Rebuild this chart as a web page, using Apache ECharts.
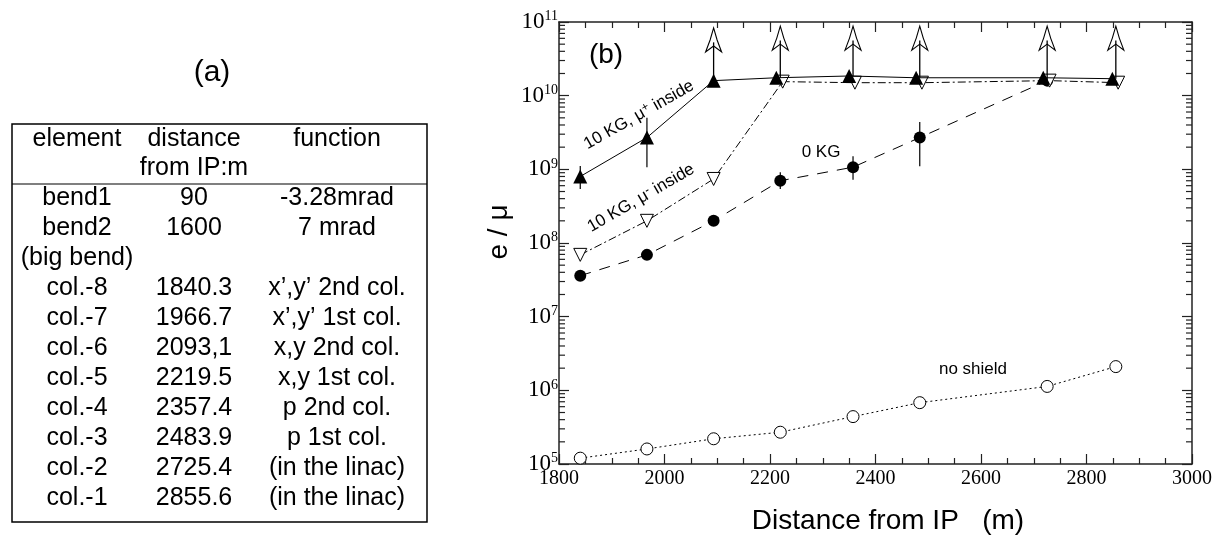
<!DOCTYPE html>
<html><head><meta charset="utf-8">
<script src="https://cdn.jsdelivr.net/npm/echarts@6/dist/echarts.min.js"></script>
<style>html,body{margin:0;padding:0;background:#fff}#c{width:1227px;height:539px}</style>
</head><body><div id="c"></div>
<script>
// ---------- table (a) ----------
const tableHeader1 = ['element', 'distance', 'function'];
const tableHeader2 = ['', 'from IP:m', ''];
const tableElements = ['bend1', 'bend2', '(big bend)', 'col.-8', 'col.-7', 'col.-6', 'col.-5', 'col.-4', 'col.-3', 'col.-2', 'col.-1'];
const tableDistances = ['90', '1600', '', '1840.3', '1966.7', '2093,1', '2219.5', '2357.4', '2483.9', '2725.4', '2855.6'];
const tableFunctions = ['-3.28mrad', '7 mrad', '', 'x\u2019,y\u2019 2nd col.', 'x\u2019,y\u2019 1st col.', 'x,y 2nd col.', 'x,y 1st col.', 'p 2nd col.', 'p 1st col.', '(in the linac)', '(in the linac)'];

// ---------- chart (b) ----------
const muPlusX = [1840.3, 1966.7, 2093.1, 2212, 2350, 2477, 2718, 2849];
const muPlusY = [8.0e8, 2.7e9, 1.6e10, 1.75e10, 1.85e10, 1.75e10, 1.75e10, 1.7e10];
const muMinusX = [1840.3, 1966.7, 2093.1, 2224, 2361, 2488, 2730, 2860];
const muMinusY = [6.9e7, 2.0e8, 7.4e8, 1.55e10, 1.5e10, 1.5e10, 1.6e10, 1.5e10];
const zeroKgX = [1840.3, 1966.7, 2093.1, 2219.5, 2357.4, 2483.9, 2725.4];
const zeroKgY = [3.6e7, 6.9e7, 2.0e8, 7.0e8, 1.07e9, 2.7e9, 1.6e10];
const noShieldX = [1840.3, 1966.7, 2093.1, 2219.5, 2357.4, 2483.9, 2725.4, 2855.6];
const noShieldY = [1.2e5, 1.6e5, 2.2e5, 2.7e5, 4.4e5, 6.8e5, 1.13e6, 2.1e6];

const errX = [1840.3, 1966.7, 2219.5, 2357.4, 2483.9];
const errLow = [5.4e8, 1.07e9, 5.4e8, 7.2e8, 1.1e9];
const errHigh = [1.11e9, 5.0e9, 9.1e8, 1.5e9, 4.4e9];

const arrowX = [2093.1, 2219.5, 2357.4, 2483.9, 2725.4, 2855.6];
const arrowFrom = [1.6e10, 1.75e10, 1.85e10, 1.75e10, 1.6e10, 1.7e10];
const arrowTo = [8.3e10, 8.8e10, 8.8e10, 8.8e10, 8.8e10, 8.8e10];

const xTickStep = 200;
const xMin = 1800, xMax = 3000;
const yMin = 1e5, yMax = 1e11;
const minorMultipliers = [2, 3, 4, 5, 6, 7, 8, 9];
const decadeExponents = [5, 6, 7, 8, 9, 10];

const sans = '"Liberation Sans", Arial, Helvetica, sans-serif';
const serif = '"Liberation Serif", "Times New Roman", serif';

const minorVals = [];
decadeExponents.forEach(e => minorMultipliers.forEach(m => minorVals.push(m * Math.pow(10, e))));

function pairs(xs, ys) { return xs.map((x, i) => [x, ys[i]]); }

// table graphics
const tbl = [];
const colX = [77, 194, 337];
const txt = (s, x, y, size, extra) => Object.assign({
  type: 'text', x: x, y: y,
  style: { text: s, fontSize: size, fontFamily: sans, fill: '#000', align: 'center', verticalAlign: 'middle', textAlign: 'center', textVerticalAlign: 'middle' }
}, extra || {});
tbl.push(txt('(a)', 212, 73, 30));
tbl.push({ type: 'rect', shape: { x: 12, y: 124, width: 415, height: 398 }, style: { fill: 'none', stroke: '#000', lineWidth: 1.5 } });
tbl.push({ type: 'line', shape: { x1: 12, y1: 184, x2: 427, y2: 184 }, style: { stroke: '#000', lineWidth: 1.2 } });
tableHeader1.forEach((s, i) => tbl.push(txt(s, colX[i], 139, 25)));
tableHeader2.forEach((s, i) => { if (s) tbl.push(txt(s, colX[i], 168, 25)); });
tableElements.forEach((s, r) => {
  const y = 198 + r * 30;
  tbl.push(txt(s, colX[0], y, 25));
  if (tableDistances[r]) tbl.push(txt(tableDistances[r], colX[1], y, 25));
  if (tableFunctions[r]) tbl.push(txt(tableFunctions[r], colX[2], y, 25));
});

// chart labels
const labels = [];
labels.push(txt('(b)', 606, 55, 28));
labels.push(txt('e / \u03bc', 499, 232, 28, { rotation: Math.PI / 2 }));
labels.push(txt('Distance from IP   (m)', 888, 521, 28));
const richSup = { s: { fontSize: 12, fontFamily: sans, verticalAlign: 'top', padding: [0, 0, 7, 0] } };
labels.push({
  type: 'text', x: 639, y: 115, rotation: 29.5 * Math.PI / 180,
  style: { text: '10 KG, \u03bc{s|+} inside', fontSize: 17, fontFamily: sans, fill: '#000', align: 'center', verticalAlign: 'middle', textAlign: 'center', textVerticalAlign: 'middle', rich: richSup }
});
labels.push({
  type: 'text', x: 641, y: 198, rotation: 30 * Math.PI / 180,
  style: { text: '10 KG, \u03bc{s|-} inside', fontSize: 17, fontFamily: sans, fill: '#000', align: 'center', verticalAlign: 'middle', textAlign: 'center', textVerticalAlign: 'middle', rich: richSup }
});
labels.push(txt('0 KG', 821, 152, 17));
labels.push(txt('no shield', 973, 369, 17));

const axisCommon = {
  min: xMin, max: xMax, interval: xTickStep,
  axisLine: { show: true, lineStyle: { color: '#222', width: 1.5 } },
  axisTick: { show: true, inside: true, length: 10, lineStyle: { color: '#222', width: 1.2 } },
  minorTick: { show: true, splitNumber: 4, length: 6, lineStyle: { color: '#222', width: 1.2 } },
  splitLine: { show: false }
};
const yCommon = {
  type: 'log', logBase: 10, min: yMin, max: yMax,
  axisLine: { show: true, lineStyle: { color: '#222', width: 1.5 } },
  axisTick: { show: true, inside: true, length: 10, lineStyle: { color: '#222', width: 1.2 } },
  splitLine: { show: false }
};

const option = {
  animation: false,
  backgroundColor: '#fff',
  grid: { left: 559, right: 35, top: 22, bottom: 75 },
  xAxis: [
    Object.assign({ type: 'value', position: 'bottom',
      axisLabel: { fontFamily: serif, fontSize: 20, color: '#000', margin: 5, formatter: v => String(v) } }, axisCommon),
    Object.assign({ type: 'value', position: 'top', axisLabel: { show: false } }, axisCommon)
  ],
  yAxis: [
    Object.assign({ position: 'left',
      axisLabel: {
        margin: 1, color: '#000',
        formatter: v => '{b|10}{s|' + Math.round(Math.log10(v)) + '}',
        rich: { b: { fontFamily: serif, fontSize: 23, color: '#000' }, s: { fontFamily: serif, fontSize: 14, color: '#000', verticalAlign: 'top', padding: [0, 0, 11, 0] } }
      } }, yCommon),
    Object.assign({ position: 'right', axisLabel: { show: false } }, yCommon)
  ],
  graphic: tbl.concat(labels),
  series: [
    { name: 'no shield', type: 'line', data: pairs(noShieldX, noShieldY), z: 3,
      lineStyle: { color: '#000', width: 1, type: [2, 3] },
      symbol: 'circle', symbolSize: 12, itemStyle: { color: '#fff', borderColor: '#000', borderWidth: 1 } },
    { name: '0 KG', type: 'line', data: pairs(zeroKgX, zeroKgY), z: 3,
      lineStyle: { color: '#000', width: 1, type: [11, 9] },
      symbol: 'circle', symbolSize: 12, itemStyle: { color: '#000' } },
    { name: '10 KG mu- inside', type: 'line', data: pairs(muMinusX, muMinusY), z: 3,
      lineStyle: { color: '#000', width: 1, type: [8, 3, 2, 3] },
      symbol: 'triangle', symbolRotate: 180, symbolSize: 13, itemStyle: { color: '#fff', borderColor: '#000', borderWidth: 1 } },
    { name: '10 KG mu+ inside', type: 'line', data: pairs(muPlusX, muPlusY), z: 4,
      lineStyle: { color: '#000', width: 1 },
      symbol: 'triangle', symbolSize: 14, itemStyle: { color: '#000' } },
    { name: 'errors', type: 'custom', z: 5, silent: true,
      data: errX.map((x, i) => [x, errLow[i], errHigh[i]]),
      renderItem: (params, api) => {
        const a = api.coord([api.value(0), api.value(1)]);
        const b = api.coord([api.value(0), api.value(2)]);
        return { type: 'line', shape: { x1: a[0], y1: a[1], x2: b[0], y2: b[1] }, style: { stroke: '#000', lineWidth: 1.2 } };
      } },
    { name: 'lower limits', type: 'custom', z: 6, silent: true,
      data: arrowX.map((x, i) => [x, arrowFrom[i], arrowTo[i]]),
      renderItem: (params, api) => {
        const p0 = api.coord([api.value(0), api.value(1)]);
        const p1 = api.coord([api.value(0), api.value(2)]);
        const hw = 8, hl = 24, notch = 6, neck = 3.5;
        const tx = p1[0], ty = p1[1];
        return { type: 'group', children: [
          { type: 'line', shape: { x1: p0[0], y1: p0[1], x2: tx, y2: ty + hl - notch }, style: { stroke: '#000', lineWidth: 1.3 } },
          { type: 'polygon', shape: { points: [[tx, ty], [tx + neck, ty + hl * 0.5], [tx + hw, ty + hl], [tx, ty + hl - notch], [tx - hw, ty + hl], [tx - neck, ty + hl * 0.5]] },
            style: { fill: '#fff', stroke: '#000', lineWidth: 1.1 } },
          { type: 'line', shape: { x1: tx, y1: ty + hl - notch, x2: tx, y2: ty + hl * 0.6 }, style: { stroke: '#000', lineWidth: 1.3 } }
        ] };
      } },
    { name: 'minor y ticks', type: 'custom', z: 2, silent: true,
      data: minorVals.map(v => [xMin, v]),
      renderItem: (params, api) => {
        const v = api.value(1);
        const L = api.coord([xMin, v]);
        const R = api.coord([xMax, v]);
        return { type: 'group', children: [
          { type: 'line', shape: { x1: L[0], y1: L[1], x2: L[0] + 6, y2: L[1] }, style: { stroke: '#222', lineWidth: 1.2 } },
          { type: 'line', shape: { x1: R[0], y1: R[1], x2: R[0] - 6, y2: R[1] }, style: { stroke: '#222', lineWidth: 1.2 } }
        ] };
      } }
  ]
};
const chart = echarts.init(document.getElementById('c'), null, { renderer: 'canvas' });
chart.setOption(option);
</script></body></html>
